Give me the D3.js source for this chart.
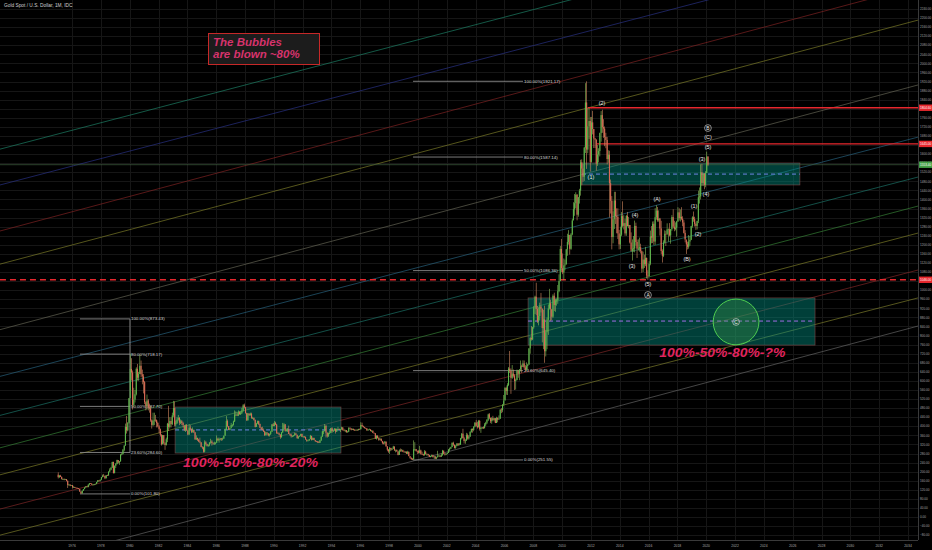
<!DOCTYPE html>
<html><head><meta charset="utf-8">
<script src="https://cdn.jsdelivr.net/npm/d3@7"></script>
<style>html,body{margin:0;padding:0;background:#000;overflow:hidden}svg{display:block}</style>
</head><body><svg id="c" width="932" height="550"></svg>
<script>
// ---------- DATA ----------
const firstMonth = [1975, 0];           // Jan 1975
const firstOpen = 186.5;
const closes = [
175.8,181.8,177.3,167.0,167.0,166.3,166.7,159.8,141.3,142.9,138.2,140.3,
131.5,132.3,128.8,128.4,126.3,123.8,112.5,104.0,116.0,123.2,130.3,134.5,
132.3,142.8,148.9,147.3,143.0,143.0,144.1,146.0,154.1,161.5,160.5,164.9,
175.8,182.3,181.6,170.9,184.2,183.1,200.3,208.7,217.1,242.6,193.4,226.0,
233.7,251.3,240.1,245.3,274.6,277.5,296.5,315.1,397.3,382.0,415.7,524.0,
653.0,637.0,494.5,517.5,541.0,653.5,614.3,631.3,666.8,629.0,619.8,594.9,
506.5,489.0,513.8,482.8,479.3,426.0,406.0,425.0,428.8,427.0,414.5,400.0,
387.0,362.6,320.0,361.3,325.3,317.5,342.8,411.5,397.0,423.3,409.5,448.0,
480.3,408.5,414.8,429.3,437.5,416.0,422.0,414.3,405.0,382.0,405.0,381.5,
363.8,394.3,388.5,375.8,384.3,373.1,342.4,348.3,341.1,333.5,329.0,309.0,
306.7,287.8,329.8,321.4,314.0,317.8,327.8,333.3,326.0,325.1,325.3,326.8,
345.5,338.2,344.0,345.8,343.2,345.5,357.5,384.7,423.2,401.0,383.5,390.9,
405.0,405.9,421.5,451.0,451.3,447.3,462.5,453.4,459.5,469.5,492.5,484.1,
458.0,426.2,456.9,449.0,455.5,436.6,436.6,427.8,397.3,412.4,422.6,410.2,
394.0,387.0,383.2,377.6,361.4,373.0,368.3,359.8,366.5,375.3,408.2,401.0,
415.1,407.7,368.5,367.8,363.1,352.2,372.3,387.8,408.4,379.5,384.8,386.2,
366.0,362.7,355.7,357.5,360.4,368.4,362.9,347.4,354.9,357.5,366.3,353.2,
354.1,353.1,341.7,336.4,337.5,343.4,357.8,340.0,349.0,339.3,334.2,333.3,
330.5,327.6,337.8,354.3,377.5,378.5,401.8,371.6,355.5,369.6,370.9,391.8,
377.9,381.6,389.2,376.5,387.6,388.3,384.0,385.8,394.9,383.9,383.1,383.3,
374.9,376.4,392.0,389.8,384.3,387.1,383.4,382.4,384.0,382.7,387.8,387.0,
405.6,400.7,396.4,392.9,390.9,382.0,385.3,386.5,379.0,379.5,371.3,369.0,
345.5,358.6,348.2,340.2,344.9,334.6,326.4,325.4,332.1,311.4,296.8,289.2,
304.9,297.4,301.0,310.7,293.6,296.3,288.9,273.4,293.9,292.3,294.7,287.8,
285.4,287.1,279.5,286.6,268.6,261.3,255.6,254.8,299.0,299.1,291.4,290.3,
283.3,293.7,278.4,276.8,272.3,288.2,276.8,278.3,273.7,264.5,269.1,272.7,
264.5,266.7,257.7,263.2,267.5,270.6,265.9,273.0,293.1,278.8,275.5,279.0,
282.3,296.9,301.4,308.2,326.6,318.5,304.7,312.8,323.7,316.9,319.1,347.2,
367.5,347.5,334.9,336.8,361.4,346.0,354.8,375.6,388.0,383.8,398.4,416.3,
402.2,395.9,423.7,388.5,393.3,395.8,391.4,407.3,415.7,428.4,452.5,438.0,
422.2,435.5,427.5,435.7,414.5,437.1,429.0,433.3,473.3,470.8,495.7,513.0,
568.8,556.0,582.0,654.5,643.5,613.5,632.5,623.5,599.3,603.8,646.7,632.0,
650.5,664.2,661.8,677.0,659.1,650.5,665.5,672.0,743.0,789.5,783.5,836.5,
923.3,971.5,916.8,864.0,885.8,928.3,918.0,833.0,871.0,730.8,814.5,869.8,
919.5,942.5,916.5,883.3,975.5,934.5,955.5,955.5,995.8,1040.0,1182.0,1096.5,
1078.5,1109.5,1113.3,1180.0,1212.5,1244.0,1182.5,1246.0,1307.5,1357.0,1383.5,1421.0,
1333.0,1409.5,1439.0,1563.7,1536.5,1500.5,1628.5,1828.0,1620.0,1722.0,1746.0,1565.8,
1740.0,1711.0,1669.0,1664.0,1558.0,1598.5,1614.0,1692.5,1772.1,1719.0,1712.5,1675.5,
1662.5,1578.3,1597.3,1472.0,1394.5,1234.5,1312.8,1395.5,1327.0,1323.5,1250.5,1202.0,
1244.8,1326.5,1283.8,1295.9,1250.5,1327.3,1282.8,1287.3,1210.5,1171.3,1182.8,1184.1,
1283.5,1212.8,1183.2,1183.9,1189.5,1171.9,1095.2,1135.0,1114.8,1142.4,1065.0,1060.8,
1117.0,1237.5,1232.2,1292.9,1214.5,1321.8,1350.8,1308.6,1316.1,1272.3,1172.9,1151.7,
1210.4,1248.5,1248.2,1268.3,1268.7,1241.5,1269.2,1322.2,1280.2,1270.2,1275.0,1302.5,
1343.2,1317.8,1323.6,1315.0,1298.5,1252.6,1223.6,1201.7,1191.6,1214.6,1222.2,1282.5,
1321.2,1313.4,1292.3,1283.5,1305.6,1409.6,1413.6,1520.0,1472.9,1513.6,1464.5,1517.3,
1589.2,1553.4];
const highs = [
197,185,186,178,170,170,168,167,161,146,143,141,
141,136,133,130,129,127,124,113,117,124,131,136,
137,144,150,150,149,144,146,147,155,163,163,165,
176,187,190,182,185,187,201,215,221,244,244,227,
238,253,251,247,278,282,300,316,412,446,418,524,
720,700,646,570,560,660,675,640,716,690,650,630,
600,510,540,520,500,490,430,460,460,450,430,420,
405,390,365,362,360,330,350,415,490,440,440,460,
512,510,425,440,450,440,430,428,420,400,408,410,
385,410,405,390,395,385,375,360,350,345,350,330,
312,310,338,336,323,320,330,345,340,330,332,330,
360,350,350,348,348,350,360,390,445,430,400,392,
415,409,425,470,466,460,470,466,465,481,498,500,
485,460,458,455,460,460,442,440,430,415,425,425,
412,397,398,390,380,375,372,370,368,380,410,415,
423,420,410,375,372,365,375,415,415,410,390,392,
403,367,367,360,362,372,370,362,356,360,367,368,
358,357,355,342,339,344,362,358,350,349,340,336,
334,335,340,356,380,381,410,406,373,372,380,393,
396,385,392,390,390,398,390,388,398,396,389,385,
382,380,396,397,392,390,390,388,387,387,389,390,
418,416,403,398,394,392,388,390,386,384,383,372,
370,360,360,348,348,346,336,332,335,333,312,300,
308,305,303,314,311,297,297,290,298,302,300,297,
292,290,290,292,290,266,262,260,338,330,300,293,
295,314,297,288,279,295,292,280,278,274,270,275,
275,270,268,266,292,275,272,280,296,292,283,281,
285,300,306,310,330,332,319,317,326,326,327,349,
370,389,354,343,371,368,361,378,390,391,400,418,
428,420,428,428,398,397,400,414,420,432,456,458,
431,440,446,437,436,442,439,448,475,480,497,538,
573,575,590,661,732,655,670,650,630,610,650,645,
652,690,672,691,690,669,682,675,745,795,842,838,
930,976,1033,930,925,945,988,920,914,932,825,880,
937,1006,958,915,982,989,962,963,1023,1070,1195,1226,
1162,1140,1135,1182,1249,1265,1212,1252,1315,1388,1424,1432,
1424,1411,1447,1575,1577,1556,1632,1913,1921,1804,1804,1764,
1764,1791,1710,1672,1665,1640,1626,1695,1790,1796,1754,1722,
1694,1676,1617,1615,1488,1415,1348,1434,1434,1361,1361,1266,
1280,1345,1392,1331,1315,1332,1345,1323,1288,1255,1224,1239,
1307,1298,1223,1224,1232,1205,1175,1170,1157,1191,1144,1088,
1128,1263,1283,1303,1304,1362,1375,1367,1352,1319,1306,1180,
1220,1264,1262,1295,1272,1296,1270,1331,1357,1306,1299,1306,
1366,1361,1356,1366,1326,1309,1265,1218,1214,1243,1238,1284,
1326,1347,1324,1299,1306,1439,1453,1555,1557,1518,1516,1525,
1611,1591];
const lows = [
170,173,176,166,163,162,164,157,128,138,136,138,
126,128,128,126,125,122,111,103,104,115,122,129,
130,131,142,146,142,139,140,144,145,152,155,157,
164,175,178,167,170,181,182,197,206,217,192,193,
216,232,236,230,244,272,276,290,314,368,378,412,
559,602,474,485,505,536,602,601,630,616,585,545,
498,470,480,470,460,420,390,400,405,420,395,395,
370,355,315,322,320,296,315,330,380,390,395,405,
440,400,400,410,425,405,410,405,395,380,375,380,
360,362,385,370,372,370,340,340,335,330,325,307,
299,284,285,315,310,310,312,323,315,318,318,320,
328,335,328,338,336,338,345,360,384,396,383,382,
394,398,403,419,445,445,445,451,450,454,465,479,
456,424,425,445,447,433,432,425,395,398,411,405,
392,383,382,375,357,358,360,356,355,362,377,400,
400,405,368,366,360,345,350,372,385,376,377,375,
366,357,350,352,354,358,360,345,345,354,356,352,
351,350,341,332,333,336,343,337,339,339,331,330,
326,326,326,336,354,365,378,351,350,354,365,370,
371,375,380,368,375,383,382,375,385,381,378,374,
371,372,374,386,382,384,382,380,381,381,382,385,
386,398,394,390,390,381,380,384,378,377,370,367,
345,341,346,336,338,334,321,320,320,310,290,283,
278,291,295,300,292,285,288,272,274,287,288,286,
284,283,278,277,268,257,252,251,253,292,288,278,
280,280,275,274,270,271,276,270,269,264,263,266,
262,256,256,255,263,266,264,265,270,277,271,273,
277,282,290,300,308,314,302,301,312,313,317,318,
342,347,324,323,336,341,341,353,372,372,378,395,
398,390,395,381,371,388,388,391,400,410,423,431,
414,411,424,421,414,415,418,431,433,458,462,490,
516,539,538,577,635,543,609,615,560,562,603,614,
603,642,636,661,650,641,643,650,671,720,778,780,
830,895,890,855,845,867,902,770,740,680,708,740,
803,915,865,868,878,908,905,932,940,991,1041,1080,
1071,1044,1088,1114,1152,1201,1157,1178,1242,1315,1328,1362,
1308,1324,1382,1417,1462,1478,1482,1605,1535,1604,1667,1523,
1563,1687,1627,1627,1527,1548,1564,1590,1655,1694,1672,1635,
1626,1555,1562,1321,1338,1180,1207,1270,1292,1251,1226,1180,
1182,1238,1277,1268,1240,1240,1281,1273,1206,1182,1131,1170,
1167,1197,1142,1175,1170,1162,1077,1080,1098,1106,1052,1046,
1062,1110,1207,1208,1200,1200,1311,1302,1302,1241,1160,1122,
1146,1206,1195,1243,1214,1237,1205,1262,1274,1260,1264,1236,
1302,1307,1303,1309,1282,1250,1211,1160,1180,1183,1196,1221,
1276,1302,1281,1266,1268,1296,1382,1400,1459,1459,1445,1454,
1517,1547];

// parallel channel lines: price at left edge (1971.0) and at right edge (2034.7)
const chanLeft  = [1622, 1464, 1261, 1115, 826, 620, 448, 305, 186, 35, -80, -240];
const chanRight = [2681, 2522, 2341, 2191, 1905, 1675, 1499, 1371, 1252, 1089, 966, 842];
const chanColor = ["#1f8a6e","#2c3590","#8a2626","#86862c","#6c6c5c","#2a6a88","#1e7c70","#3a8a3a","#86862a","#8a2a2a","#868630","#6c6c6c"];

// fib retracements
const fibLevels = ["100.00%","80.00%","50.00%","23.60%","0.00%"];
const fibLeftPrices  = [873.43, 718.17, 487.70, 284.60, 101.80];
const fibRightPrices = [1921.17, 1587.14, 1086.36, 645.40, 251.55];
const fibLeftSpan  = [1976.55, 1980.02];
const fibRightSpan = [1999.66, 2007.29];

// horizontal levels
const hLines = [
  {p:1804.6, from:2011.80, dash:false, label:"1804.60"},
  {p:1645.0, from:2012.42, dash:false, label:"1645.00"},
  {p:1046.0, from:1971.0,  dash:true,  label:"1046.00"}
];
const lastPrice = 1553.4;

// zones [fromYear, toYear, topPrice, bottomPrice, midPrice, dashColor]
const zones = [
  [2011.38, 2026.50, 1561, 1464, 1512, "#6f86e6"],
  [2007.64, 2027.55, 966, 758, 864, "#a06ee6"],
  [1983.15, 1994.66, 485, 282, 384, "#6f86e6"]
];
const circleC = {d:2022.07, p:860, edge:2023.66};

// Elliott wave labels [text, year, price, circled]
const waves = [
 ["(2)",2012.77,1825,false],["(1)",2012.0,1499,false],["(4)",2015.06,1332,false],
 ["(3)",2014.85,1107,false],["(5)",2015.96,1027,false],["A",2015.96,979,true],
 ["(A)",2016.59,1402,false],["(B)",2018.67,1138,false],["(1)",2019.15,1371,false],
 ["(2)",2019.43,1248,false],["(3)",2019.71,1578,false],["(4)",2019.98,1424,false],
 ["(5)",2020.12,1631,false],["(C)",2020.12,1675,false],["B",2020.12,1715,true],
 ["C",2022.07,860,true]
];
const notes = [
 {t:"100%-50%-80%-20%", d:1983.7, p:220, w:135},
 {t:"100%-50%-80%-?%", d:2016.75, p:705, w:126}
];
const bubbleLines = ["The Bubbles","are blown ~80%"];
const title = "Gold Spot / U.S. Dollar, 1M, IDC";
const yearTicks = d3.range(1976, 2035, 2);
const priceTicks = d3.range(-80, 2241, 40);

// ---------- SCALES ----------
const W = 932, H = 550, PW = 918, PH = 540;
const x = d3.scaleTime().domain([new Date(1971,0,2), new Date(2034,8,11)]).range([0, PW]);
const y = d3.scaleLinear().domain([-101.4, 2279.6]).range([PH, 0]);
function yr(v){ const Y=Math.floor(v); const s=new Date(Y,0,1), e=new Date(Y+1,0,1); return new Date(+s + (v-Y)*(e-s)); }
const FONT = "Liberation Sans, Arial, sans-serif";

const svg = d3.select("#c");
svg.append("rect").attr("width",W).attr("height",H).attr("fill","#000");
svg.append("defs").append("clipPath").attr("id","clip").append("rect").attr("width",PW).attr("height",PH);
const g = svg.append("g").attr("clip-path","url(#clip)");

// grid
g.selectAll(".hg").data(priceTicks).join("line")
 .attr("x1",0).attr("x2",PW).attr("y1",d=>Math.round(y(d))+0.5).attr("y2",d=>Math.round(y(d))+0.5)
 .attr("stroke","#161616").attr("stroke-width",1);
g.selectAll(".vg").data(yearTicks).join("line")
 .attr("y1",0).attr("y2",PH).attr("x1",d=>Math.round(x(new Date(d,0,1)))+0.5).attr("x2",d=>Math.round(x(new Date(d,0,1)))+0.5)
 .attr("stroke","#161616").attr("stroke-width",1);

// channel lines
const dom = x.domain();
chanLeft.forEach((pl,i)=>{
  g.append("line").attr("x1",x(dom[0])).attr("y1",y(pl)).attr("x2",x(dom[1])).attr("y2",y(chanRight[i]))
   .attr("stroke",chanColor[i]).attr("stroke-width",0.8).attr("stroke-opacity",0.8);
});

// zones
zones.forEach(z=>{
  g.append("rect").attr("x",x(yr(z[0]))).attr("y",y(z[2])).attr("width",x(yr(z[1]))-x(yr(z[0]))).attr("height",y(z[3])-y(z[2]))
   .attr("fill","rgba(0,150,136,0.42)").attr("stroke","rgba(150,80,80,0.7)").attr("stroke-width",0.7);
  g.append("line").attr("x1",x(yr(z[0]))).attr("x2",x(yr(z[1]))).attr("y1",y(z[4])).attr("y2",y(z[4]))
   .attr("stroke",z[5]).attr("stroke-width",1).attr("stroke-dasharray","4,3");
});

// fib retracements
function drawFib(prices, span, vertical){
  const x0=x(yr(span[0])), x1=x(yr(span[1]));
  prices.forEach((p,i)=>{
    g.append("line").attr("x1",x0).attr("x2",x1).attr("y1",y(p)).attr("y2",y(p)).attr("stroke","#9a9a9a").attr("stroke-width",0.8);
    g.append("text").attr("x",x1+1).attr("y",y(p)+1.5).attr("fill","#d8d8d8").attr("font-size",4.4)
     .attr("font-family",FONT).text(fibLevels[i]+"("+p.toFixed(2)+")");
  });
  if(vertical) g.append("line").attr("x1",x1).attr("x2",x1).attr("y1",y(prices[0])).attr("y2",y(prices[3])).attr("stroke","#9a9a9a").attr("stroke-width",0.8);
}
drawFib(fibLeftPrices, fibLeftSpan, true);
drawFib(fibRightPrices, fibRightSpan, false);

// horizontal lines
hLines.forEach(h=>{
  g.append("line").attr("x1",x(yr(h.from))).attr("x2",PW).attr("y1",y(h.p)).attr("y2",y(h.p))
   .attr("stroke","#e8282e").attr("stroke-width",h.dash?1.6:1.3).attr("stroke-dasharray",h.dash?"6,4":null);
});
// last price line
g.append("line").attr("x1",0).attr("x2",PW).attr("y1",y(lastPrice)).attr("y2",y(lastPrice))
 .attr("stroke","#3f5f3f").attr("stroke-width",0.7);

// candles
const candles = closes.map((c,i)=>({
  d:new Date(firstMonth[0], firstMonth[1]+i, 15),
  o: i===0 ? firstOpen : closes[i-1], c, h:highs[i], l:lows[i]
}));
const cg = g.append("g");
cg.selectAll(".w").data(candles).join("rect")
 .attr("x",d=>x(d.d)-0.3).attr("width",0.6).attr("y",d=>y(d.h)).attr("height",d=>Math.max(0.5,y(d.l)-y(d.h)))
 .attr("fill",d=>d.c>=d.o?"#8cc05a":"#d58a62");
cg.selectAll(".b").data(candles).join("rect")
 .attr("x",d=>x(d.d)-0.55).attr("width",1.1).attr("y",d=>y(Math.max(d.o,d.c))).attr("height",d=>Math.max(0.6,Math.abs(y(d.o)-y(d.c))))
 .attr("fill",d=>d.c>=d.o?"#5cb84e":"#dd6a55");

// circle
const cr = x(yr(circleC.edge)) - x(yr(circleC.d));
g.append("circle").attr("cx",x(yr(circleC.d))).attr("cy",y(circleC.p)).attr("r",cr)
 .attr("fill","rgba(76,175,80,0.28)").attr("stroke","#4fcf50").attr("stroke-width",1);

// wave labels
waves.forEach(w=>{
  const cx=x(yr(w[1])), cy=y(w[2]);
  if(w[3]) g.append("circle").attr("cx",cx).attr("cy",cy).attr("r",3.4).attr("fill","none").attr("stroke","#e0e0e0").attr("stroke-width",0.6);
  g.append("text").attr("x",cx).attr("y",cy+1.8).attr("text-anchor","middle").attr("fill","#eeeeee")
   .attr("font-size",w[3]?4.8:5.4).attr("font-family",FONT).text(w[0]);
});

// percentage notes
notes.forEach(n=>{
  g.append("text").attr("x",x(yr(n.d))).attr("y",y(n.p)).attr("fill","#e0245e")
   .attr("font-size",13.4).attr("font-weight","bold").attr("font-style","italic")
   .attr("textLength",n.w).attr("lengthAdjust","spacingAndGlyphs")
   .attr("font-family",FONT).text(n.t);
});

// bubble box
svg.append("rect").attr("x",208.5).attr("y",33.5).attr("width",111).attr("height",31)
 .attr("fill","#1c1c1c").attr("stroke","#c62828").attr("stroke-width",1);
bubbleLines.forEach((t,i)=>{
  svg.append("text").attr("x",213).attr("y",45.5+i*12.5).attr("fill","#d6336c").attr("font-size",11.5)
   .attr("font-weight","bold").attr("font-style","italic").attr("font-family",FONT).text(t);
});

// title
svg.append("text").attr("x",4).attr("y",7).attr("fill","#cfcfcf").attr("font-size",4.8)
 .attr("font-family",FONT).text(title);

// axes frame
svg.append("line").attr("x1",PW+0.5).attr("x2",PW+0.5).attr("y1",0).attr("y2",PH).attr("stroke","#3a3a3a");
svg.append("line").attr("x1",0).attr("x2",PW).attr("y1",PH+0.5).attr("y2",PH+0.5).attr("stroke","#3a3a3a");
const fmt = d3.format(".2f");
svg.selectAll(".pl").data(priceTicks).join("text")
 .attr("x",920).attr("y",d=>y(d)+1.2).attr("fill","#a8a8a8").attr("font-size",3.1)
 .attr("font-family",FONT).text(d=>fmt(d));
svg.selectAll(".yl").data(yearTicks).join("text")
 .attr("x",d=>x(new Date(d,0,1))).attr("y",547).attr("text-anchor","middle").attr("fill","#a8a8a8").attr("font-size",3.4)
 .attr("font-family",FONT).text(d=>d);
// price tags
const tags = hLines.map(h=>({p:h.p,t:h.label,c:"#e8282e"})).concat([{p:lastPrice,t:lastPrice.toFixed(2),c:"#43a047"}]);
tags.forEach(t=>{
  svg.append("rect").attr("x",PW+1).attr("y",y(t.p)-3.2).attr("width",13).attr("height",6.4).attr("fill",t.c);
  svg.append("text").attr("x",920).attr("y",y(t.p)+1.2).attr("fill","#fff").attr("font-size",3.1)
   .attr("font-family",FONT).text(t.t);
});
</script></body></html>
